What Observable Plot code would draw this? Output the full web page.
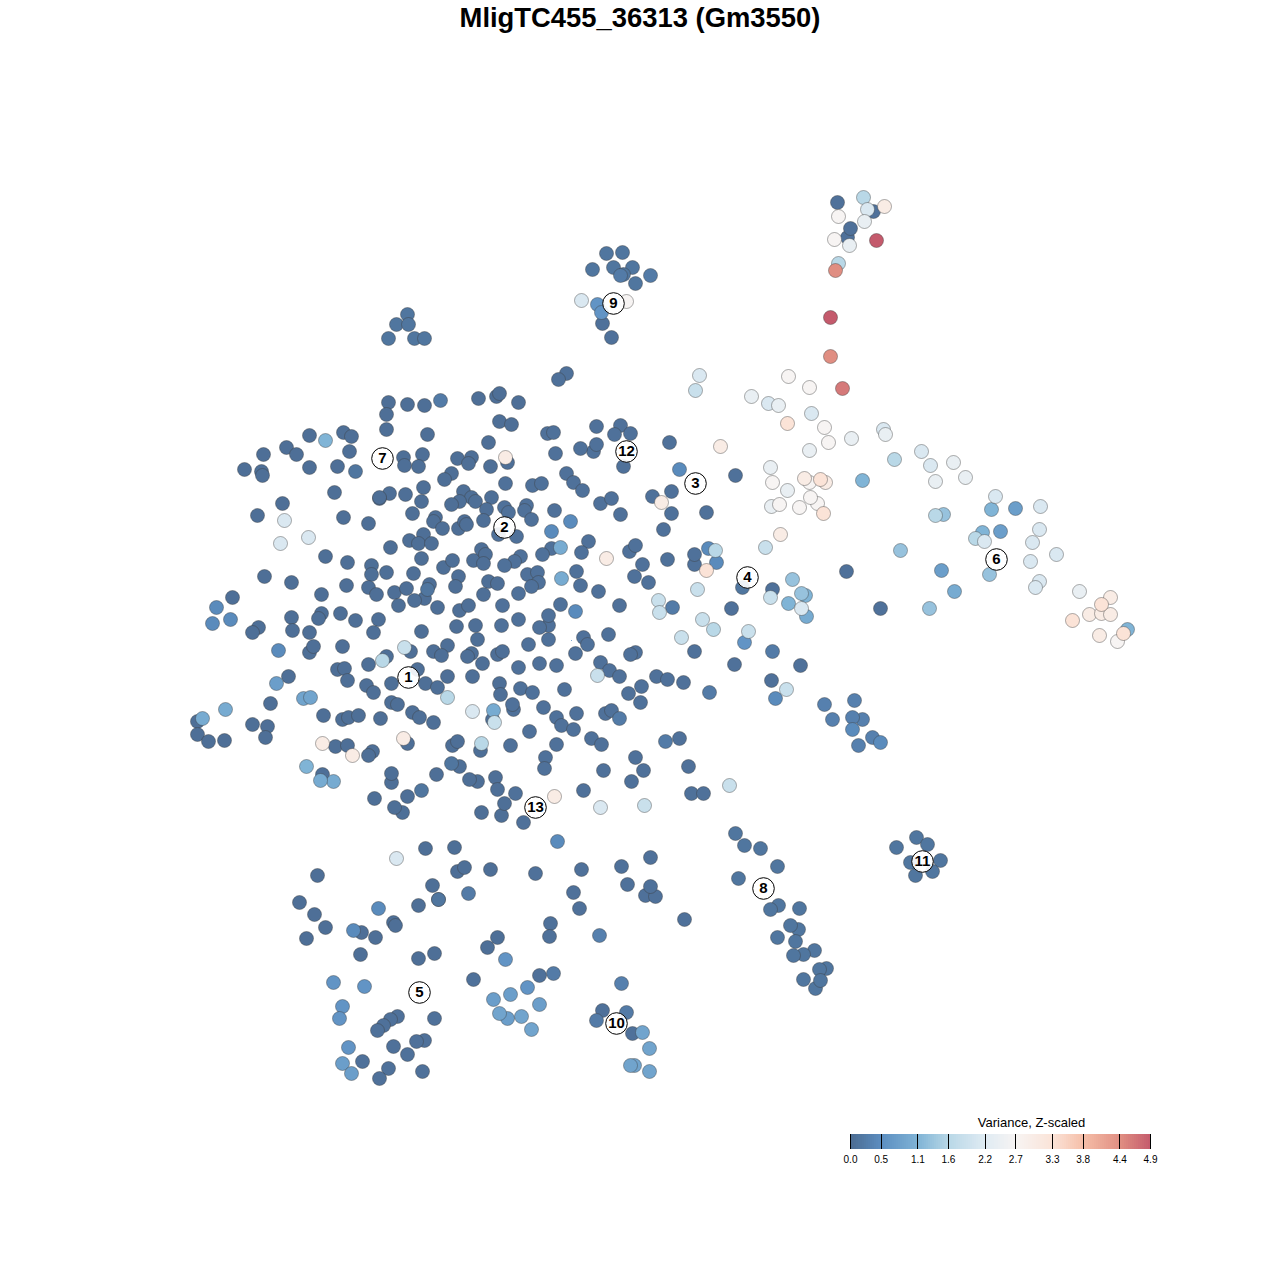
<!DOCTYPE html>
<html><head><meta charset="utf-8">
<script src="https://cdn.jsdelivr.net/npm/d3@7"></script>
<script src="https://cdn.jsdelivr.net/npm/@observablehq/plot@0.6"></script>
<style>
html,body{margin:0;padding:0;background:#fff;width:1280px;}
#title{height:36px;text-align:center;font:bold 27.4px/35px "Liberation Sans",Arial,sans-serif;color:#000;}
svg{display:block;}
</style></head><body>
<div id="title">MligTC455_36313 (Gm3550)</div>
<div id="main"></div>
<div id="legend"></div>
<script>
// Points as [x, y] pairs, grouped by their Z-scaled variance
const v005 = [[388,402],[407,404],[424,405],[478,398],[496,396],[499,393],[518,402],[386,414],[386,429],[427,434],[499,421],[511,424],[488,442],[309,435],[343,432],[351,436],[349,451],[263,454],[286,447],[296,454],[244,469],[261,471],[262,475],[309,467],[337,466],[403,457],[404,465],[422,454],[418,466],[457,458],[471,457],[468,463],[490,466],[507,462],[451,473],[444,479],[334,492],[423,487],[389,493],[379,498],[379,497],[405,494],[463,491],[471,497],[459,501],[451,504],[475,501],[491,497],[421,501],[412,513],[486,509],[282,503],[257,515],[343,517],[368,523],[435,517],[433,521],[442,528],[458,528],[464,521],[466,524],[483,520],[325,556],[347,562],[390,547],[409,540],[423,534],[418,543],[431,543],[371,565],[371,574],[386,572],[413,573],[421,558],[443,567],[452,560],[473,560],[481,549],[485,554],[483,563],[458,576],[455,586],[488,581],[497,583],[264,576],[291,582],[346,585],[368,587],[376,594],[394,592],[406,588],[429,584],[424,598],[414,600],[398,605],[437,607],[459,610],[468,605],[483,594],[232,597],[321,594],[321,613],[318,618],[291,617],[292,630],[258,627],[252,632],[340,613],[355,620],[378,619],[373,632],[309,632],[421,631],[456,626],[475,625],[477,639],[309,652],[313,646],[342,646],[386,656],[410,651],[433,651],[447,645],[441,655],[471,653],[467,656],[482,663],[497,654],[502,651],[368,664],[337,669],[344,668],[288,676],[347,680],[366,685],[373,692],[391,683],[417,669],[425,683],[437,687],[447,676],[472,676],[270,703],[323,715],[342,719],[348,717],[358,715],[380,718],[391,702],[397,704],[412,712],[419,717],[433,722],[492,719],[499,683],[500,694],[197,721],[197,734],[208,741],[224,740],[252,724],[267,726],[265,737],[335,746],[347,745],[372,751],[368,755],[407,743],[452,745],[457,741],[480,750],[322,774],[391,782],[391,773],[436,774],[459,766],[477,781],[469,779],[495,777],[497,789],[374,798],[407,796],[402,812],[394,807],[481,812],[501,815],[504,803],[425,848],[454,847],[457,871],[464,867],[490,869],[317,875],[432,885],[438,899],[418,905],[299,902],[314,914],[325,927],[306,938],[361,932],[375,937],[393,922],[395,925],[360,954],[418,958],[434,953],[487,947],[497,937]];
const v008 = [[547,433],[553,432],[596,426],[620,425],[614,434],[630,433],[555,453],[593,451],[580,448],[596,444],[669,442],[623,466],[566,473],[573,482],[582,490],[505,483],[532,485],[541,483],[504,507],[508,512],[526,505],[524,510],[531,519],[554,510],[498,534],[516,536],[600,503],[611,498],[620,514],[652,496],[671,491],[671,513],[706,512],[663,529],[588,541],[581,552],[551,548],[542,554],[520,556],[514,561],[504,565],[527,574],[537,572],[538,582],[531,586],[518,593],[576,571],[580,585],[598,591],[629,551],[635,545],[642,564],[667,559],[634,576],[648,582],[694,564],[694,554],[694,651],[635,652],[630,654],[608,634],[583,637],[587,644],[575,653],[600,662],[609,670],[619,676],[656,676],[667,679],[683,682],[641,686],[628,693],[640,702],[619,605],[560,604],[548,625],[548,615],[539,627],[518,619],[502,605],[501,625],[548,639],[528,644],[518,667],[539,663],[556,665],[520,688],[532,692],[564,689],[513,709],[512,704],[543,707],[556,717],[561,725],[573,729],[576,713],[529,731],[556,744],[510,745],[545,757],[544,768],[591,738],[601,744],[605,713],[611,710],[679,738],[635,757],[643,770],[631,781],[603,770],[688,766],[691,793],[703,793],[583,790],[515,793],[523,822],[535,873],[581,869],[621,866],[650,857],[627,884],[645,895],[655,896],[650,886],[573,892],[579,908],[684,919],[550,923],[549,936],[566,373],[558,379],[602,323],[611,337],[735,475],[846,571],[772,589],[880,608],[800,665],[734,664],[731,608],[771,680],[837,202],[873,211],[847,237],[850,228],[473,979],[397,1016],[390,1019],[383,1025],[377,1030],[434,1018],[393,1046],[424,1040],[416,1041],[407,1054],[362,1061],[388,1068],[379,1078],[422,1071],[602,1010],[632,1033],[539,975]];
const v014 = [[735,833],[744,845],[760,848],[777,866],[738,878],[778,905],[770,909],[799,908],[798,929],[790,925],[777,937],[795,941],[814,950],[803,954],[793,955],[826,968],[819,969],[803,979],[815,988],[820,980],[896,847],[916,837],[927,844],[940,860],[910,862],[932,871],[915,875],[407,314],[396,324],[408,324],[388,338],[414,338],[424,338],[606,253],[622,252],[592,269],[613,267],[632,267],[623,274],[635,283],[355,471],[427,589],[451,763],[421,790],[438,899],[742,587]];
const v022 = [[440,400],[672,607],[709,692],[772,651],[665,741],[619,718],[553,973],[626,1012],[596,1020],[620,275],[650,275],[468,893]];
const v030 = [[824,704],[854,700],[832,719],[862,719],[852,717],[872,737],[858,745],[599,935],[621,983]];
const v045 = [[216,607],[212,623],[230,619],[278,650],[378,908],[353,930],[570,521],[551,531],[575,611],[708,548],[716,562],[679,469],[852,729],[880,742],[775,698],[557,841]];
const v060 = [[333,982],[364,986],[342,1006],[339,1018],[348,1047],[505,959],[527,987],[597,304],[601,312],[744,642]];
const v075 = [[342,1063],[351,1073],[510,994],[493,999],[539,1004],[507,1018],[1015,508],[1000,531],[941,570],[276,683]];
const v085 = [[499,1013],[521,1016],[531,1029],[642,1032],[649,1048],[634,1065],[630,1065],[649,1071],[303,698],[310,697]];
const v095 = [[333,781],[560,547],[561,578],[202,718],[493,710],[806,616],[954,591],[320,780],[225,709]];
const v110 = [[325,440],[306,766],[862,480],[982,532],[991,509],[788,603],[805,595],[1127,629]];
const v130 = [[792,579],[801,593],[929,608],[900,550],[943,514],[989,574]];
const v160 = [[382,660],[447,697],[481,743],[838,263],[715,550],[894,459],[935,515],[975,538],[713,629],[863,197]];
const v185 = [[404,647],[494,722],[597,675],[658,600],[659,612],[702,619],[697,589],[681,637],[786,689],[729,785],[644,805],[770,597],[765,547],[695,390],[748,631]];
const v210 = [[284,520],[308,537],[280,543],[396,858],[472,711],[600,807],[699,375],[768,403],[811,413],[883,429],[921,451],[930,465],[995,496],[1040,506],[1039,529],[1032,542],[1056,554],[1030,561],[1039,581],[1035,587],[801,608],[984,541],[867,209],[581,300]];
const v240 = [[953,462],[935,481],[965,477],[751,396],[778,405],[851,438],[885,434],[770,467],[787,490],[771,506],[809,450],[1079,591],[864,221],[849,245]];
const v270 = [[824,427],[817,503],[810,497],[772,482],[779,504],[799,507],[809,482],[838,216],[626,301],[1117,641],[788,376],[809,387],[828,442],[834,239]];
const v300 = [[322,743],[352,755],[403,738],[505,457],[661,502],[606,558],[720,446],[780,534],[554,796],[825,482],[804,478],[884,206],[1110,597],[1089,614],[1101,613],[1110,614],[1099,635]];
const v330 = [[706,570],[787,423],[820,479],[823,513],[1101,604],[1072,620],[1123,633]];
const v440 = [[835,270],[830,356]];
const v460 = [[842,388]];
const v490 = [[876,240],[830,317]];

const tiers = [[0.05,v005],[0.08,v008],[0.14,v014],[0.22,v022],[0.3,v030],[0.45,v045],[0.6,v060],[0.75,v075],[0.85,v085],[0.95,v095],[1.1,v110],[1.3,v130],[1.6,v160],[1.85,v185],[2.1,v210],[2.4,v240],[2.7,v270],[3.0,v300],[3.3,v330],[4.4,v440],[4.6,v460],[4.9,v490]];

const clusterIds = ["1","2","3","4","5","6","7","8","9","10","11","12","13"];
const clusterX = [408,504,695,747,419,996,382,763,613,616,922,626,535];
const clusterY = [677,527,483,577,992,559,458,888,303,1023,861,451,807];

const speckX = [571];
const speckY = [640];

const legendTitle = "Variance, Z-scaled";
const legendTicks = [0.0,0.5,1.1,1.6,2.2,2.7,3.3,3.8,4.4,4.9];
const stopColors = ["#4c6c92","#5c8ec1","#80b4d6","#b9d8e7","#e0ebf3","#f7f4f3","#fbe3d7","#f5bea8","#e08e82","#c45a6c"];

const font = '"Liberation Sans",Arial,sans-serif';
const points = tiers.flatMap(([v, pts]) => pts.map(([x, y]) => ({x, y, v})));
const clusters = clusterIds.map((id, i) => ({id, x: clusterX[i], y: clusterY[i]}));
const colorScale = {type: "linear", domain: legendTicks, range: stopColors};

document.getElementById("main").append(Plot.plot({
  width: 1280, height: 1074, margin: 0,
  style: {background: "transparent", fontFamily: font},
  x: {axis: null, domain: [0, 1280], range: [0, 1280]},
  y: {axis: null, domain: [36, 1110], range: [0, 1074]},
  color: colorScale,
  marks: [
    Plot.dot(speckX.map((x, i) => ({x, y: speckY[i]})), {x: "x", y: "y", r: 0.5, fill: stopColors[1]}),
    Plot.dot(points, {x: "x", y: "y", r: 7, fill: "v", stroke: "#3c3c3c", strokeOpacity: 0.42, strokeWidth: 1}),
    Plot.dot(clusters, {x: "x", y: "y", r: 10.8, fill: "#fff", fillOpacity: 0.9, stroke: "#000", strokeWidth: 1}),
    Plot.text(clusters, {x: "x", y: "y", text: "id", fontSize: 15, fontWeight: "bold", fill: "#000", fontFamily: font})
  ]
}));

const stepCount = 150;
const steps = d3.range(stepCount).map(i => ({a: 4.9 * i / stepCount, b: 4.9 * (i + 1.5) / stepCount}));
steps.forEach(s => { s.b = Math.min(s.b, 4.9); });
document.getElementById("legend").append(Plot.plot({
  width: 1280, height: 60, margin: 0,
  style: {background: "transparent", fontFamily: font},
  x: {axis: null, domain: [0, 4.9], range: [850, 1150]},
  y: {axis: null, domain: [0, 60], range: [0, 60]},
  color: colorScale,
  marks: [
    Plot.rect(steps, {x1: "a", x2: "b", y1: 24, y2: 39, fill: "a"}),
    Plot.ruleX(legendTicks, {x: d => d, y1: 24, y2: 39, stroke: "#000", strokeWidth: 1, shapeRendering: "crispEdges"}),
    Plot.text(legendTicks, {x: d => d, y: 49, text: d => d.toFixed(1), fontSize: 10, fill: "#000", fontFamily: font}),
    Plot.text([legendTitle], {x: 2.957, y: 12, text: d => d, fontSize: 13, fill: "#000", fontFamily: font})
  ]
}));
</script>
</body></html>
